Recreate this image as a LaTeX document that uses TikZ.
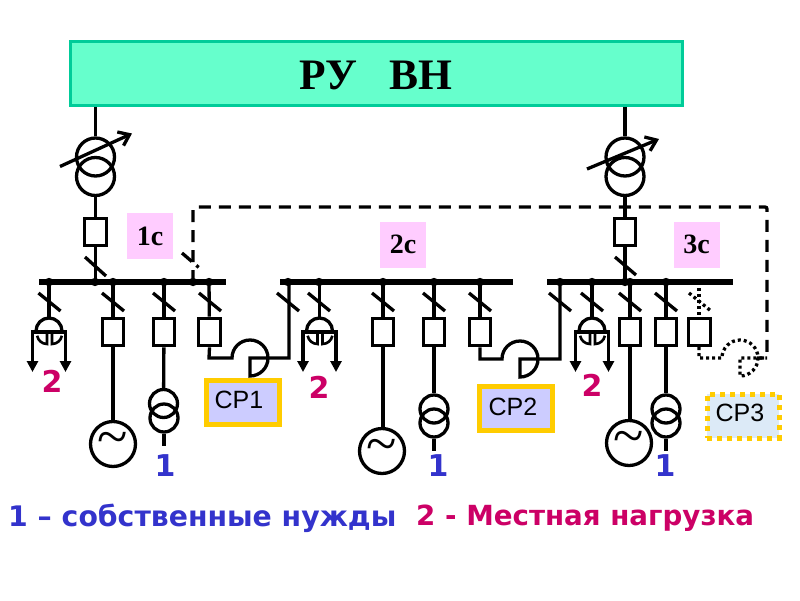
\documentclass[tikz,border=0pt]{standalone}
\usepackage{fontspec}
\setmainfont{Liberation Serif}
\newfontfamily\vsans{DejaVu Sans}
\newfontfamily\asans{Liberation Sans}
\definecolor{ruFill}{HTML}{66FFCC}
\definecolor{ruEdge}{HTML}{00CC99}
\definecolor{pinkBox}{HTML}{FFCCFF}
\definecolor{srFill}{HTML}{CCCCFF}
\definecolor{srEdge}{HTML}{FFCC00}
\definecolor{srLight}{HTML}{DCEAF7}
\definecolor{numA}{HTML}{3333CC}
\definecolor{numB}{HTML}{CC0066}
\newcommand{\slashmark}[2]{\draw[wire] (#1-11,#2) -- (#1+11,#2+18);}
\newcommand{\busdot}[1]{\fill (#1,282) circle[radius=4.2pt];}
\newcommand{\loadsym}[2]{%
  \coordinate (#1 c) at (#2,332);
  \draw[wire] (#2,282) -- (#2,319);
  \draw[wire] (#2-13,331) arc[start angle=180,end angle=0,radius=13pt];
  \draw[wire,-{Triangle[length=11pt,width=11pt]}] (#2,332) -- (#2-16.5,332) -- (#2-16.5,372);
  \draw[wire,-{Triangle[length=11pt,width=11pt]}] (#2,332) -- (#2+16.5,332) -- (#2+16.5,372);
  \draw[wire,line width=2.6pt] (#2-2,332) -- (#2-2,344) arc[start angle=-90,end angle=-170,radius=10pt];
  \draw[wire,line width=2.6pt] (#2+3,332) -- (#2+3,344) arc[start angle=-90,end angle=-10,radius=10pt];
}
\tikzset{
  wire/.style={line width=3.3pt},
  swbox/.style={draw,line width=3.3pt,minimum width=21.5pt,minimum height=27.5pt,inner sep=0pt},
  genbox/.style={draw,circle,line width=3.3pt,minimum size=45pt,inner sep=0pt},
  trbig/.style={draw,circle,line width=3.3pt,minimum size=38pt,inner sep=0pt},
  trsmall/.style={draw,circle,line width=3.3pt,minimum size=28pt,inner sep=0pt},
  seclabel/.style={fill=pinkBox,minimum width=46pt,minimum height=46pt,inner sep=0pt,font=\bfseries\fontsize{28}{28}\selectfont},
  srbox/.style={draw=srEdge,fill=srFill,line width=5pt,minimum width=73pt,minimum height=44pt,inner sep=0pt},
  srtext/.style={inner sep=0pt,font=\asans\fontsize{25}{25}\selectfont},
  numone/.style={text=numA,inner sep=0pt,font=\vsans\bfseries\fontsize{30}{30}\selectfont},
  numtwo/.style={text=numB,inner sep=0pt,font=\vsans\bfseries\fontsize{30}{30}\selectfont},
  tildemark/.style={inner sep=0pt,font=\rmfamily\fontsize{56}{56}\selectfont},
  busbar/.style={line width=5.5pt},
  dashconn/.style={line width=3.3pt,dash pattern=on 12pt off 8pt},
  dotconn/.style={line width=3.3pt,dash pattern=on 3pt off 3pt},
}
\usetikzlibrary{arrows.meta}
\begin{document}
\begin{tikzpicture}[x=1pt,y=-1pt]
\useasboundingbox (0,0) rectangle (800,600);
\fill[white] (0,0) rectangle (800,600);
% main switchgear
\node[draw=ruEdge,fill=ruFill,line width=3.3pt,minimum width=612pt,minimum height=63.5pt,inner sep=0pt] (ru) at (376.5,73.5) {};
\node[inner sep=0pt,font=\bfseries\fontsize{43.5}{43.5}\selectfont] (rut) at (376,75) {РУ\hspace{0.75em}ВН};
% section labels
\node[seclabel] (s1) at (150,236) {1с};
\node[seclabel] (s2) at (403,244.5) {2с};
\node[seclabel] (s3) at (696.5,244.5) {3с};
% dashed tie
\coordinate (da) at (193,282);
\coordinate (db) at (193,207);
\coordinate (dc) at (767,207);
\coordinate (dd) at (767,358);
\coordinate (de) at (757,358);
\draw[dashconn,rounded corners=2pt] (da) -- (db) -- (dc) -- (dd) -- (de);
\draw[wire,dash pattern=on 13pt off 6pt on 3pt off 20pt] (182,253) -- (204,272);
% busbars
\coordinate (b1l) at (39,282); \coordinate (b1r) at (226,282);
\coordinate (b2l) at (280,282); \coordinate (b2r) at (513,282);
\coordinate (b3l) at (547,282); \coordinate (b3r) at (733,282);
\draw[busbar] (b1l) -- (b1r);
\draw[busbar] (b2l) -- (b2r);
\draw[busbar] (b3l) -- (b3r);
\foreach \x in {49,95,113,164,193,209,288,319,383,434,480,560,592,625,630,666} {\busdot{\x}}
% input transformer left
\node[swbox] (q1) at (95.5,232) {};
\node[trbig] (t1a) at (95.5,157) {};
\node[trbig] (t1b) at (95.5,176.5) {};
\draw[wire] (ru.south -| t1a) -- (t1a);
\draw[wire] (t1b) -- (q1);
\draw[wire] (q1) -- (95.5,282);
\draw[wire,-{Straight Barb[length=10pt,width=15pt]}] (60,166.5) -- (132,133.5);
\draw[wire] (85,257) -- (106,276);
% input transformer right
\node[swbox] (q2) at (625,232) {};
\node[trbig] (t2a) at (625,157) {};
\node[trbig] (t2b) at (625,176.5) {};
\draw[wire] (ru.south -| t2a) -- (t2a);
\draw[wire] (t2b) -- (q2);
\draw[wire] (q2) -- (625,282);
\draw[wire,-{Straight Barb[length=10pt,width=15pt]}] (587,169) -- (659,139);
\draw[wire] (615,257) -- (636,275);
% section 1 feeders
\loadsym{l1}{49}
\slashmark{49.5}{293}
\node[numtwo] (n21) at (52,381) {2};
\node[swbox] (f1g) at (113,332) {};
\node[genbox] (g1) at (113,444) {};
\node[tildemark] at (g1) {\char"007E};
\draw[wire] (113,282) -- (f1g);
\draw[wire] (f1g) -- (g1);
\slashmark{113}{293}
\node[swbox] (f1t) at (164,332) {};
\node[trsmall] (t1c) at (163.5,403.5) {};
\node[trsmall] (t1d) at (164,418) {};
\coordinate (e1) at (164,446);
\draw[wire] (164,282) -- (f1t);
\draw[wire] (f1t) -- (t1c);
\draw[wire] (t1d) -- (e1);
\slashmark{164}{293}
\node[numone] (n11) at (165,466) {1};
\node[swbox] (f1s) at (209.5,332) {};
\draw[wire] (209,282) -- (f1s);
\slashmark{210}{293}
\draw[wire] (f1s.south) -- (209,358) -- (232,358) arc[start angle=180,end angle=-90,radius=18pt] -- (250,358) -- (268,358) -- (289,358) -- (289,282);
\slashmark{288}{293}
\node[srbox] (sr1) at (243,402.5) {};
\node[srtext] at (239,400) {СР1};
% section 2 feeders
\loadsym{l2}{319.5}
\slashmark{319}{293}
\node[numtwo] (n22) at (319,387) {2};
\node[swbox] (f2g) at (383,332) {};
\node[genbox] (g2) at (382,451) {};
\node[tildemark] at (g2) {\char"007E};
\draw[wire] (383,282) -- (f2g);
\draw[wire] (f2g) -- (383,429);
\slashmark{383}{293}
\node[swbox] (f2t) at (434,332) {};
\node[trsmall] (t2c) at (434,409) {};
\node[trsmall] (t2d) at (434,423) {};
\coordinate (e2) at (434,451);
\draw[wire] (434,282) -- (f2t);
\draw[wire] (f2t) -- (t2c);
\draw[wire] (t2d) -- (e2);
\slashmark{434}{293}
\node[numone] (n12) at (438,466) {1};
\node[swbox] (f2s) at (480,332) {};
\draw[wire] (480,282) -- (f2s);
\slashmark{480}{293}
\draw[wire] (f2s.south) -- (480,359) -- (502,359) arc[start angle=180,end angle=-90,radius=18pt] -- (520,359) -- (538,359) -- (560,359) -- (560,282);
\slashmark{560}{293}
\node[srbox] (sr2) at (516,408.5) {};
\node[srtext] at (513,407) {СР2};
% section 3 feeders
\loadsym{l3}{592}
\slashmark{592}{293}
\node[numtwo] (n23) at (592,385) {2};
\node[swbox] (f3g) at (630,332) {};
\node[genbox] (g3) at (629,443) {};
\node[tildemark] at (g3) {\char"007E};
\draw[wire] (630,282) -- (f3g);
\draw[wire] (f3g) -- (630,421);
\slashmark{630}{293}
\node[swbox] (f3t) at (666,332) {};
\node[trsmall] (t3c) at (666,409) {};
\node[trsmall] (t3d) at (666,423) {};
\coordinate (e3) at (666,451);
\draw[wire] (666,282) -- (f3t);
\draw[wire] (f3t) -- (t3c);
\draw[wire] (t3d) -- (e3);
\slashmark{666}{293}
\node[numone] (n13) at (665,466) {1};
\node[swbox] (f3s) at (699.5,332) {};
\draw[dotconn] (699,282) -- (699,317);
\draw[dotconn] (689,293) -- (711,311);
\draw[dotconn] (699,347) -- (699,358) -- (722,358) arc[start angle=180,end angle=-90,radius=18pt] -- (740,358) -- (758,358) -- (767,358);
\node[draw=srEdge,fill=srLight,line width=5pt,dash pattern=on 5pt off 5pt,minimum width=72pt,minimum height=44pt,inner sep=0pt] (sr3) at (743,416) {};
\node[srtext] at (740,413) {СР3};
% legend
\node[inner sep=0pt,anchor=west,text=numA,font=\vsans\bfseries\fontsize{28.3}{28.3}\selectfont] (leg1) at (8,518) {1 – собственные нужды};
\node[inner sep=0pt,anchor=west,text=numB,font=\vsans\bfseries\fontsize{27.7}{27.7}\selectfont] (leg2) at (416,518) {2 - Местная нагрузка};
\end{tikzpicture}
\end{document}
